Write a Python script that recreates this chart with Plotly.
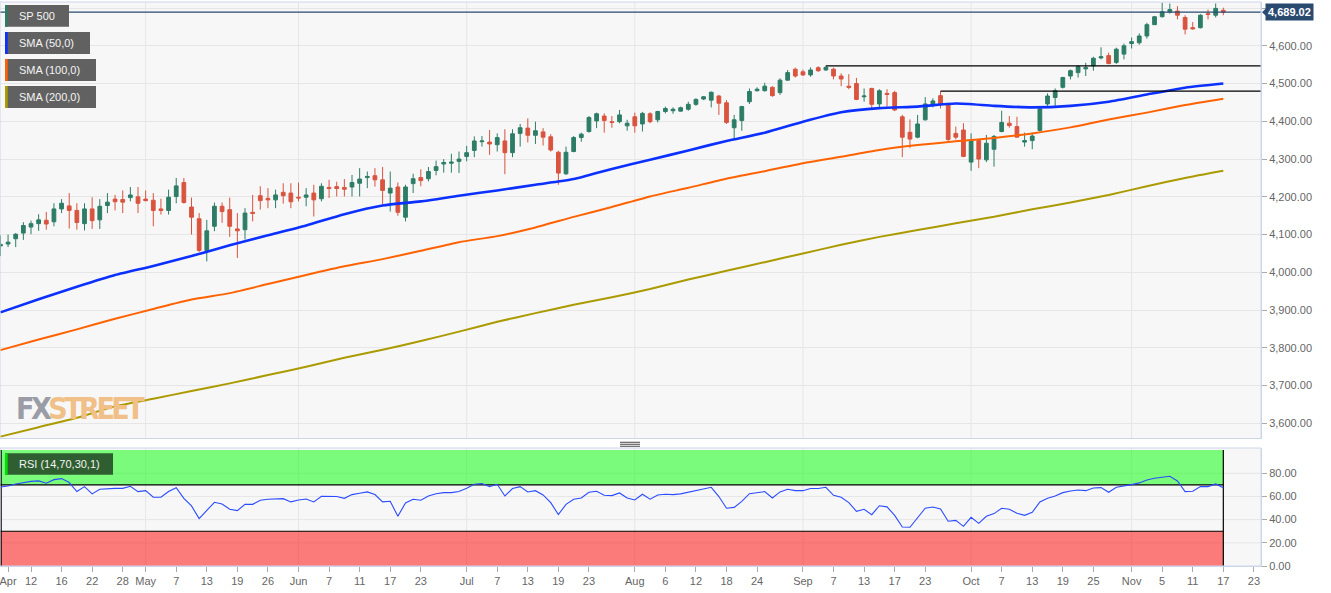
import pandas as pd
import plotly.graph_objects as go

# ---------------- data ----------------
MISSING_DAY = "2021-05-25"
axis_days = [d.strftime("%Y-%m-%d") for d in pd.bdate_range("2021-04-06", "2021-11-30")
             if d.strftime("%Y-%m-%d") != MISSING_DAY]
dates = [d for d in axis_days if d <= "2021-11-17"]

open_ = [4070, 4075, 4089, 4104, 4120, 4129, 4138, 4134, 4168, 4176,
         4164, 4129, 4168, 4139, 4177, 4194, 4193, 4198, 4200, 4194,
         4191, 4168, 4164, 4201, 4238, 4173, 4142, 4058, 4122, 4175,
         4166, 4115, 4113, 4159, 4203, 4196, 4192, 4212, 4210, 4199,
         4199, 4210, 4195, 4225, 4227, 4225, 4226, 4236, 4251, 4256,
         4245, 4210, 4226, 4146, 4235, 4251, 4248, 4270, 4287, 4289,
         4294, 4307, 4323, 4346, 4345, 4338, 4348, 4317, 4368, 4382,
         4363, 4372, 4359, 4318, 4261, 4320, 4357, 4373, 4401, 4414,
         4399, 4399, 4388, 4412, 4393, 4420, 4404, 4426, 4428, 4427,
         4432, 4445, 4459, 4456, 4467, 4449, 4383, 4402, 4452, 4481,
         4481, 4490, 4476, 4509, 4538, 4531, 4523, 4542, 4536, 4538,
         4520, 4493, 4500, 4465, 4487, 4446, 4474, 4476, 4412, 4371,
         4358, 4404, 4446, 4468, 4445, 4368, 4377, 4292, 4349, 4298,
         4326, 4373, 4395, 4386, 4345, 4349, 4376, 4446, 4463, 4490,
         4520, 4529, 4539, 4547, 4568, 4574, 4556, 4578, 4606, 4608,
         4626, 4656, 4677, 4690, 4692, 4675, 4648, 4648, 4685, 4681,
         4694]
high = [4098, 4100, 4104, 4133, 4137, 4154, 4160, 4183, 4194, 4210,
        4183, 4183, 4199, 4194, 4210, 4205, 4217, 4226, 4226, 4217,
        4210, 4195, 4219, 4250, 4250, 4198, 4157, 4139, 4185, 4185,
        4198, 4157, 4170, 4205, 4228, 4223, 4219, 4236, 4236, 4238,
        4223, 4232, 4236, 4245, 4240, 4247, 4258, 4276, 4267, 4276,
        4279, 4267, 4238, 4232, 4261, 4273, 4279, 4296, 4300, 4314,
        4320, 4335, 4360, 4361, 4377, 4368, 4379, 4379, 4393, 4408,
        4399, 4382, 4366, 4322, 4333, 4361, 4370, 4414, 4423, 4421,
        4414, 4430, 4404, 4423, 4425, 4424, 4428, 4439, 4437, 4439,
        4452, 4461, 4467, 4479, 4470, 4456, 4417, 4441, 4487, 4490,
        4502, 4493, 4514, 4536, 4542, 4537, 4543, 4546, 4547, 4542,
        4527, 4525, 4515, 4487, 4489, 4485, 4485, 4481, 4417, 4405,
        4417, 4464, 4461, 4480, 4449, 4386, 4395, 4368, 4351, 4364,
        4364, 4428, 4414, 4412, 4370, 4370, 4434, 4474, 4487, 4518,
        4537, 4549, 4555, 4571, 4596, 4582, 4595, 4606, 4622, 4633,
        4661, 4679, 4714, 4712, 4705, 4681, 4663, 4684, 4696, 4712,
        4701]
low = [4043, 4067, 4067, 4086, 4101, 4110, 4113, 4122, 4157, 4116,
       4113, 4111, 4115, 4115, 4157, 4164, 4157, 4188, 4157, 4188,
       4122, 4153, 4153, 4183, 4182, 4100, 4054, 4029, 4109, 4131,
       4094, 4038, 4087, 4135, 4166, 4170, 4170, 4182, 4170, 4188,
       4175, 4148, 4188, 4197, 4201, 4201, 4201, 4201, 4223, 4227,
       4179, 4161, 4150, 4135, 4210, 4228, 4241, 4257, 4264, 4264,
       4263, 4294, 4305, 4333, 4311, 4320, 4260, 4305, 4333, 4344,
       4340, 4336, 4320, 4232, 4258, 4318, 4346, 4370, 4382, 4370,
       4383, 4395, 4375, 4370, 4373, 4395, 4397, 4421, 4420, 4426,
       4428, 4441, 4456, 4437, 4417, 4393, 4351, 4375, 4446, 4479,
       4479, 4465, 4470, 4508, 4516, 4520, 4518, 4531, 4534, 4511,
       4493, 4485, 4456, 4452, 4434, 4437, 4439, 4427, 4305, 4329,
       4355, 4402, 4437, 4434, 4346, 4352, 4305, 4269, 4276, 4292,
       4280, 4371, 4383, 4358, 4333, 4326, 4373, 4441, 4441, 4487,
       4511, 4516, 4520, 4534, 4564, 4551, 4552, 4564, 4593, 4603,
       4619, 4655, 4675, 4685, 4670, 4630, 4643, 4646, 4670, 4675,
       4681]
close = [4074, 4080, 4101, 4124, 4129, 4139, 4128, 4168, 4183, 4164,
         4132, 4168, 4137, 4175, 4186, 4187, 4186, 4205, 4183, 4190,
         4164, 4164, 4199, 4229, 4185, 4146, 4058, 4110, 4175, 4161,
         4122, 4110, 4157, 4156, 4190, 4192, 4205, 4203, 4187, 4197,
         4205, 4192, 4228, 4222, 4222, 4220, 4238, 4247, 4254, 4245,
         4217, 4223, 4159, 4226, 4248, 4243, 4267, 4280, 4291, 4292,
         4300, 4317, 4348, 4348, 4340, 4357, 4317, 4367, 4383, 4363,
         4375, 4358, 4324, 4263, 4318, 4357, 4366, 4410, 4420, 4402,
         4397, 4417, 4395, 4388, 4421, 4399, 4426, 4434, 4432, 4436,
         4445, 4458, 4465, 4477, 4448, 4397, 4404, 4439, 4479, 4485,
         4493, 4468, 4509, 4529, 4520, 4523, 4536, 4534, 4543, 4520,
         4512, 4490, 4458, 4467, 4445, 4481, 4471, 4430, 4358, 4353,
         4393, 4446, 4454, 4445, 4352, 4358, 4307, 4351, 4300, 4342,
         4360, 4397, 4389, 4358, 4349, 4361, 4433, 4467, 4481, 4516,
         4534, 4545, 4542, 4567, 4571, 4553, 4591, 4600, 4611, 4626,
         4656, 4677, 4690, 4696, 4681, 4644, 4645, 4681, 4683, 4699,
         4689.02]

rsi = [68.2, 69, 70.8, 72.2, 73, 73.4, 71.4, 74.5, 75.4, 72,
       64.2, 68.5, 62.2, 66.2, 66.8, 67, 67, 68.8, 64.2, 65,
       59.3, 59.3, 64.2, 67.6, 58.4, 51.8, 40.9, 48.3, 55, 53.5,
       48.9, 47.8, 53.2, 53.2, 56.7, 57.6, 58.1, 58.1, 55.3, 57,
       57.8, 55.3, 60.1, 59.9, 59.9, 58.4, 61.6, 62.7, 63.9, 61.6,
       55.3, 55.8, 42.9, 54.4, 57.6, 56.7, 60.4, 62.4, 63.3, 63.3,
       64.2, 67, 70.5, 71.1, 68.5, 70.5, 60.4, 66.8, 68.5, 63.9,
       65, 61.3, 54.7, 44.3, 53.2, 57.6, 58.7, 63.6, 64.5, 61,
       60.7, 63, 58.7, 57, 61.9, 57.6, 61.3, 61.9, 61.6, 62.2,
       63.6, 65, 66.5, 67.9, 59.9, 49.8, 50.6, 55.8, 62.4, 63.3,
       64.2, 58.7, 63.9, 66.2, 65, 65, 66.8, 66.8, 67.9, 61,
       59.3, 54.7, 47.2, 48.9, 44.3, 52, 51, 43.7, 33.7, 33.4,
       41.4, 49.8, 50.9, 49.2, 38.6, 39.4, 34.2, 42, 36.8, 42.9,
       45.2, 49.8, 48.9, 45.5, 43.7, 46.3, 55.3, 58.4, 60.4, 63.3,
       64.7, 65.6, 65, 67.3, 67.6, 63.6, 67.9, 68.8, 70.2, 71.7,
       74.2, 75.7, 76.8, 77.4, 73.4, 64.2, 64.5, 68.5, 68.5, 70.8,
       67.6]

sma_dates = ["2021-04-06", "2021-04-13", "2021-04-20", "2021-04-27", "2021-05-04",
             "2021-05-11", "2021-05-18", "2021-05-26", "2021-06-02", "2021-06-09",
             "2021-06-16", "2021-06-23", "2021-06-30", "2021-07-07", "2021-07-14",
             "2021-07-21", "2021-07-28", "2021-08-04", "2021-08-11", "2021-08-18",
             "2021-08-25", "2021-09-01", "2021-09-08", "2021-09-15", "2021-09-22",
             "2021-09-29", "2021-10-06", "2021-10-13", "2021-10-20", "2021-10-27",
             "2021-11-03", "2021-11-10", "2021-11-17"]
sma50 = [3894, 3929, 3962, 3993, 4017, 4043, 4072, 4098, 4124, 4154,
         4177, 4188, 4203, 4217, 4232, 4247, 4274, 4298, 4323, 4348,
         4370, 4399, 4424, 4435, 4439, 4447, 4441, 4437, 4441, 4452,
         4471, 4489, 4500]
sma100 = [3794, 3822, 3849, 3877, 3903, 3928, 3945, 3969, 3993, 4016,
          4035, 4057, 4080, 4096, 4119, 4147, 4173, 4201, 4224, 4248,
          4268, 4289, 4306, 4324, 4337, 4347, 4356, 4368, 4384, 4405,
          4423, 4443, 4460]
sma200 = [3565, 3590, 3615, 3645, 3665, 3686, 3706, 3728, 3750, 3774,
          3795, 3818, 3843, 3869, 3892, 3914, 3934, 3956, 3981, 4004,
          4027, 4050, 4073, 4094, 4112, 4130, 4147, 4167, 4185, 4205,
          4228, 4250, 4269]

tick_dates = ["2021-04-07", "2021-04-12", "2021-04-16", "2021-04-22", "2021-04-28",
              "2021-05-03", "2021-05-07", "2021-05-13", "2021-05-19", "2021-05-26",
              "2021-06-01", "2021-06-07", "2021-06-11", "2021-06-17", "2021-06-23",
              "2021-07-01", "2021-07-07", "2021-07-13", "2021-07-19", "2021-07-23",
              "2021-08-02", "2021-08-06", "2021-08-12", "2021-08-18", "2021-08-24",
              "2021-09-01", "2021-09-07", "2021-09-13", "2021-09-17", "2021-09-23",
              "2021-10-01", "2021-10-07", "2021-10-13", "2021-10-19", "2021-10-25",
              "2021-11-01", "2021-11-05", "2021-11-11", "2021-11-17", "2021-11-23"]
tick_labels = ["Apr", "12", "16", "22", "28", "May", "7", "13", "19", "26",
               "Jun", "7", "11", "17", "23", "Jul", "7", "13", "19", "23",
               "Aug", "6", "12", "18", "24", "Sep", "7", "13", "17", "23",
               "Oct", "7", "13", "19", "25", "Nov", "5", "11", "17", "23"]
month_dates = ["2021-05-03", "2021-06-01", "2021-07-01", "2021-08-02",
               "2021-09-01", "2021-10-01", "2021-11-01"]

price_ticks = [3600, 3700, 3800, 3900, 4000, 4100, 4200, 4300, 4400, 4500, 4600, 4700]
rsi_ticks = [0, 20, 40, 60, 80]
level_values = [4547, 4480]
level_starts = ["2021-09-06", "2021-09-27"]
last_price = 4689.02
rsi_upper, rsi_lower, rsi_top = 70, 30, 100

# ---------------- layout helpers ----------------
W, H = 1331, 593
PL, PR, PT, PB = 0, 1261, 2, 566          # plot area in pixels


def px(x):
    return (x - PL) / (PR - PL)


def py(y):
    return (PB - y) / (PB - PT)


pos = {d: i for i, d in enumerate(axis_days)}
xs = [pos[d] for d in dates]
x_min, x_max = -0.056, 164.93

GREEN, RED = "#2d7d66", "#d9543f"
BLUE, ORANGE, OLIVE = "#0b30ff", "#ff6200", "#ab9b00"
GRID, FRAME, TXT = "#e6e6e6", "#ccd6eb", "#666666"
FONT = "Liberation Sans, Arial, sans-serif"

fig = go.Figure()

fig.add_trace(go.Candlestick(
    x=xs, open=open_, high=high, low=low, close=close,
    increasing=dict(line=dict(color=GREEN, width=1), fillcolor=GREEN),
    decreasing=dict(line=dict(color=RED, width=1), fillcolor=RED),
    whiskerwidth=0, hoverinfo="skip", showlegend=False, xaxis="x", yaxis="y"))

sx = [pos[d] for d in sma_dates]
for vals, col, w in [(sma200, OLIVE, 2), (sma100, ORANGE, 2), (sma50, BLUE, 2.6)]:
    fig.add_trace(go.Scatter(x=sx, y=vals, mode="lines",
                             line=dict(color=col, width=w, shape="spline", smoothing=0.6),
                             hoverinfo="skip", showlegend=False, xaxis="x", yaxis="y"))

fig.add_trace(go.Scatter(x=xs, y=rsi, mode="lines", line=dict(color="#2a4bff", width=1.1),
                         hoverinfo="skip", showlegend=False, xaxis="x2", yaxis="y2"))

shapes = []
# vertical month grid lines in both panels
for d in month_dates:
    for yr in ("y domain", "y2 domain"):
        shapes.append(dict(type="line", xref="x", yref=yr, x0=pos[d], x1=pos[d], y0=0, y1=1,
                           line=dict(color=GRID, width=1), layer="below"))
# RSI horizontal grid
for v in [20, 40, 60, 80]:
    shapes.append(dict(type="line", xref="x2 domain", yref="y2", x0=0, x1=1, y0=v, y1=v,
                       line=dict(color=GRID, width=1), layer="below"))
# RSI bands
last_x = xs[-1]
shapes.append(dict(type="rect", xref="x2", yref="y2", x0=x_min, x1=last_x, y0=rsi_upper, y1=rsi_top,
                   fillcolor="rgba(0,255,0,0.5)", line=dict(width=0), layer="below"))
shapes.append(dict(type="rect", xref="x2", yref="y2", x0=x_min, x1=last_x, y0=0, y1=rsi_lower,
                   fillcolor="rgba(255,0,0,0.5)", line=dict(width=0), layer="below"))
for v in (rsi_upper, rsi_lower):
    shapes.append(dict(type="line", xref="x2", yref="y2", x0=x_min, x1=last_x, y0=v, y1=v,
                       line=dict(color="black", width=1.2), layer="below"))
for xv in (x_min + 0.15, last_x):
    shapes.append(dict(type="line", xref="x2", yref="y2", x0=xv, x1=xv, y0=0, y1=rsi_top,
                       line=dict(color="black", width=1.2), layer="below"))
# resistance levels
for lv, st in zip(level_values, level_starts):
    shapes.append(dict(type="line", xref="x", yref="y", x0=pos[st], x1=x_max, y0=lv, y1=lv,
                       line=dict(color="black", width=1.3)))
# last price line
shapes.append(dict(type="line", xref="x", yref="y", x0=x_min, x1=x_max, y0=last_price, y1=last_price,
                   line=dict(color="#2b4a70", width=1.2)))
# price label pointer
shapes.append(dict(type="path", xref="paper", yref="y",
                   path=f"M {px(1262)},{last_price} L {px(1266)},{last_price + 10} L {px(1266)},{last_price - 10} Z",
                   fillcolor="#2b4a70", line=dict(width=0)))
# panel frames
main_bot = py(438.5)
rsi_top_p = py(448)
shapes.append(dict(type="rect", xref="paper", yref="paper", x0=0, x1=1, y0=main_bot, y1=1,
                   line=dict(color=FRAME, width=1)))
shapes.append(dict(type="rect", xref="paper", yref="paper", x0=0, x1=1, y0=0, y1=rsi_top_p,
                   line=dict(color=FRAME, width=1)))
# separator handle
for yy in (442.3, 444.3, 446.3):
    shapes.append(dict(type="line", xref="paper", yref="paper", x0=px(620), x1=px(640),
                       y0=py(yy), y1=py(yy), line=dict(color="#666666", width=1.2)))

annotations = []
# legend boxes
legend_items = [("SP 500", GREEN, 5, 26.7, 69), ("SMA (50,0)", BLUE, 32, 54, 90),
                ("SMA (100,0)", ORANGE, 59, 81, 96), ("SMA (200,0)", OLIVE, 86, 108, 96)]
for text, col, y0, y1, x1 in legend_items:
    shapes.append(dict(type="rect", xref="paper", yref="paper", x0=px(5), x1=px(x1),
                       y0=py(y1), y1=py(y0), fillcolor="#616161", line=dict(width=0)))
    shapes.append(dict(type="rect", xref="paper", yref="paper", x0=px(5), x1=px(7.7),
                       y0=py(y1), y1=py(y0), fillcolor=col, line=dict(width=0)))
    annotations.append(dict(xref="paper", yref="paper", x=px(17), y=py((y0 + y1) / 2),
                            xanchor="left", yanchor="middle", text=text, showarrow=False,
                            font=dict(family=FONT, size=11, color="#f4f4f4")))
shapes.append(dict(type="rect", xref="paper", yref="paper", x0=px(5), x1=px(113),
                   y0=py(474.7), y1=py(453.3), fillcolor="#2f5f30", line=dict(width=0)))
shapes.append(dict(type="rect", xref="paper", yref="paper", x0=px(5), x1=px(7.7),
                   y0=py(474.7), y1=py(453.3), fillcolor="#00e000", line=dict(width=0)))
annotations.append(dict(xref="paper", yref="paper", x=px(17), y=py(464), xanchor="left",
                        yanchor="middle", text="RSI (14,70,30,1)", showarrow=False,
                        font=dict(family=FONT, size=11, color="#f4f4f4")))
# last price label
annotations.append(dict(xref="paper", yref="y", x=px(1265), y=last_price, xanchor="left",
                        yanchor="middle", text=f"<b>{last_price:,.2f}</b>", showarrow=False,
                        bgcolor="#2b4a70", borderpad=2,
                        font=dict(family=FONT, size=11, color="white")))
# watermark
annotations.append(dict(xref="paper", yref="paper", x=px(14), y=py(408), xanchor="left",
                        yanchor="middle", showarrow=False,
                        text=("<b><span style='color:#9a9ca6;letter-spacing:-3.5px'>FX</span>"
                              "<span style='color:#f0c088;letter-spacing:-3.5px'>STREET</span></b>"),
                        font=dict(family="DejaVu Sans Condensed, Liberation Sans Narrow, Liberation Sans, sans-serif",
                                  size=30)))

fig.update_layout(
    width=W, height=H,
    margin=dict(l=PL, r=W - PR, t=PT, b=H - PB),
    paper_bgcolor="white", plot_bgcolor="#f7f7f7",
    showlegend=False, hovermode=False,
    shapes=shapes, annotations=annotations,
    font=dict(family=FONT, size=11, color=TXT),
    xaxis=dict(domain=[0, 1], range=[x_min, x_max], anchor="y", showticklabels=False,
               showgrid=False, zeroline=False, ticks="", rangeslider=dict(visible=False)),
    xaxis2=dict(domain=[0, 1], range=[x_min, x_max], anchor="y2", matches="x",
                tickmode="array", tickvals=[pos[d] for d in tick_dates], ticktext=tick_labels,
                showgrid=False, zeroline=False, ticks="outside", ticklen=5, tickcolor="#aaaaaa",
                showline=True, linecolor=FRAME, ticklabeloverflow="allow",
                tickfont=dict(family=FONT, size=11, color=TXT)),
    yaxis=dict(domain=[main_bot, 1], range=[3560, 4716], side="right", anchor="x",
               tickmode="array", tickvals=price_ticks,
               ticktext=[f"{v:,.2f}" if v < 4700 else "" for v in price_ticks],
               showgrid=True, gridcolor=GRID, zeroline=False, ticks="outside", ticklen=5,
               tickcolor="#aaaaaa", showline=True, linecolor=FRAME,
               tickfont=dict(family=FONT, size=11, color=TXT)),
    yaxis2=dict(domain=[0, rsi_top_p], range=[0, 101.8], side="right", anchor="x2",
                tickmode="array", tickvals=rsi_ticks, ticktext=[f"{v:.2f}" for v in rsi_ticks],
                showgrid=False, zeroline=False, ticks="outside", ticklen=5, tickcolor="#aaaaaa",
                showline=True, linecolor=FRAME, tickfont=dict(family=FONT, size=11, color=TXT)),
)

fig.write_html("out.html")
